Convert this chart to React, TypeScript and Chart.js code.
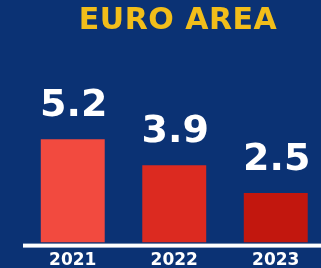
import React, { useEffect, useRef } from "react";
import { Chart, registerables } from "chart.js";

Chart.register(...registerables);

const TITLE = "EURO AREA";
const YEARS = ["2021", "2022", "2023"];
const GROWTH = [5.2, 3.9, 2.5];
const LABELS = ["5.2", "3.9", "2.5"];
const BAR_COLORS = ["#F24A3F", "#DC2A20", "#C2170E"];

const BG = "#0B3274";
const FONT = "'DejaVu Sans', 'Open Sans', sans-serif";

const overlayPlugin = {
  id: "overlay",
  afterDatasetsDraw(chart: any) {
    const { ctx, chartArea } = chart;
    ctx.save();
    // baseline
    ctx.fillStyle = "#FFFFFF";
    ctx.fillRect(chartArea.left + 1, chartArea.bottom + 1, chart.width - chartArea.left, 4);
    // value labels
    const meta = chart.getDatasetMeta(0);
    ctx.font = `bold 38px ${FONT}`;
    ctx.textAlign = "center";
    ctx.textBaseline = "alphabetic";
    meta.data.forEach((bar: any, i: number) => {
      ctx.fillText(LABELS[i], bar.x + 1, bar.y - 23);
    });
    // title
    ctx.fillStyle = "#F2BE1A";
    ctx.font = `bold 30px ${FONT}`;
    (ctx as any).letterSpacing = "0.5px";
    ctx.fillText(TITLE, 178, 28.5);
    ctx.restore();
  },
};

export default function App() {
  const ref = useRef<HTMLCanvasElement | null>(null);
  useEffect(() => {
    document.body.style.margin = "0";
    document.body.style.overflow = "hidden";
    const chart = new Chart(ref.current as HTMLCanvasElement, {
      type: "bar",
      data: {
        labels: YEARS,
        datasets: [
          {
            data: GROWTH,
            backgroundColor: BAR_COLORS,
            borderWidth: 0,
            barPercentage: 0.63,
            categoryPercentage: 1,
          },
        ],
      },
      options: {
        animation: false,
        responsive: false,
        layout: { padding: { left: 22, right: 18.5, top: 44, bottom: 1 } },
        plugins: {
          legend: { display: false },
          tooltip: { enabled: false },
          title: { display: false },
        },
        scales: {
          x: {
            grid: { display: false, drawTicks: false },
            border: { display: false },
            ticks: {
              color: "#FFFFFF",
              font: { family: FONT, size: 17, weight: "bold" },
              padding: 8,
            },
          },
          y: {
            display: false,
            min: 0,
            max: 10,
          },
        },
      },
      plugins: [overlayPlugin],
    });
    return () => chart.destroy();
  }, []);
  return (
    <div
      style={{
        position: "fixed",
        left: 0,
        top: 0,
        width: 321,
        height: 268,
        overflow: "hidden",
        background: BG,
      }}
    >
      <canvas ref={ref} width={345} height={280} style={{ display: "block" }} />
    </div>
  );
}
